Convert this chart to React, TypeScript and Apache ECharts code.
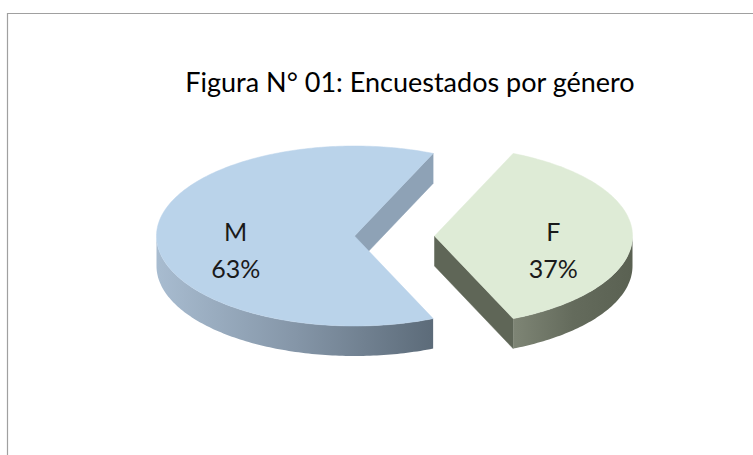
import React, { useEffect, useRef } from "react";
import * as echarts from "echarts";

const titleText = "Figura N° 01: Encuestados por género";
const categories = ["M", "F"];
const values = [63, 37];

const topColors = ["#BAD3EA", "#DEEBD6"];
const sideColors = [
  ["#A8BCD0", "#8596A8", "#5C6B79"],
  ["#7E8575", "#646B5C", "#5A6152"],
];
const radialColors = ["#8EA2B6", "#5F6657"];

export default function App() {
  const ref = useRef<HTMLDivElement>(null);
  useEffect(() => {
    document.body.style.margin = "0";
    const chart = echarts.init(ref.current!, null, { renderer: "svg" });
    const total = values.reduce((a, b) => a + b, 0);
    const startDeg = 270 - (values[0] / total) * 180;
    const cx = 394.5;
    const cy = 236;
    const rx = 198;
    const ry = 90;
    const h = 30;
    const explode = 40;
    const rad = (d: number) => (d * Math.PI) / 180;

    const renderItem = (params: any, api: any) => {
      const i = params.dataIndex;
      const v = api.value(1);
      let a0 = startDeg;
      for (let k = 0; k < i; k++) a0 += (values[k] / total) * 360;
      const a1 = a0 + (v / total) * 360;
      const mid = (a0 + a1) / 2;
      const ox = Math.sin(rad(mid)) * explode;
      const oy = -Math.cos(rad(mid)) * explode * (ry / rx);
      const ax = cx + ox;
      const ay = cy + oy;
      const P = (d: number, dy = 0) => [
        ax + rx * Math.sin(rad(d)),
        ay - ry * Math.cos(rad(d)) + dy,
      ];
      const arc = (s: number, e: number, dy = 0) => {
        const pts: number[][] = [];
        const n = Math.max(2, Math.ceil(Math.abs(e - s)));
        for (let j = 0; j <= n; j++) pts.push(P(s + ((e - s) * j) / n, dy));
        return pts;
      };
      const children: any[] = [];
      // radial walls
      const walls: number[] = [];
      if (Math.sin(rad(a0)) < 0) walls.push(a0);
      if (Math.sin(rad(a1)) > 0) walls.push(a1);
      walls.forEach((d) => {
        const p = P(d);
        children.push({
          type: "polygon",
          shape: { points: [[ax, ay], p, [p[0], p[1] + h], [ax, ay + h]] },
          style: { fill: radialColors[i], stroke: radialColors[i], lineWidth: 0.5 },
        });
      });
      // outer visible wall (front half: 90..270 mod 360)
      const ranges: number[][] = [];
      for (let base = -360; base <= 360; base += 360) {
        const s = Math.max(a0, 90 + base);
        const e = Math.min(a1, 270 + base);
        if (e > s) ranges.push([s, e]);
      }
      ranges.forEach(([s, e]) => {
        const topPts = arc(s, e);
        const botPts = arc(e, s, h);
        children.push({
          type: "polygon",
          shape: { points: topPts.concat(botPts) },
          style: {
            fill: new echarts.graphic.LinearGradient(0, 0, 1, 0, [
              { offset: 0, color: sideColors[i][0] },
              { offset: 0.5, color: sideColors[i][1] },
              { offset: 1, color: sideColors[i][2] },
            ]),
          },
        });
      });
      // top face
      children.push({
        type: "polygon",
        shape: { points: [[ax, ay]].concat(arc(a0, a1)) },
        style: { fill: topColors[i], stroke: topColors[i], lineWidth: 0.5 },
      });
      // label
      const lx = ax + Math.sin(rad(mid)) * rx * 0.6;
      const ly = ay + 13;
      children.push({
        type: "text",
        style: {
          text: `${categories[i]}\n${Math.round((v / total) * 100)}%`,
          x: lx,
          y: ly,
          align: "center",
          verticalAlign: "middle",
          fontFamily: "Lato",
          fontSize: 25,
          lineHeight: 37,
          fill: "#1A1A1A",
        },
      });
      return { type: "group", children };
    };

    chart.setOption({
      animation: false,
      backgroundColor: "#FFFFFF",
      title: {
        text: titleText,
        left: 405,
        top: 76,
        textAlign: "center",
        textVerticalAlign: "middle",
        textStyle: {
          fontFamily: "Lato",
          fontSize: 27,
          fontWeight: "normal",
          color: "#000000",
        },
      },
      graphic: [
        {
          type: "rect",
          silent: true,
          z: -10,
          shape: { x: 7.5, y: 13.5, width: 820, height: 520 },
          style: { fill: "none", stroke: "#A0A0A0", lineWidth: 1.2 },
        },
      ],
      series: [
        {
          type: "custom",
          coordinateSystem: "none",
          renderItem,
          data: categories.map((c, i) => [c, values[i]]),
        },
      ],
    });
    return () => chart.dispose();
  }, []);
  return <div ref={ref} style={{ position: "absolute", left: 0, top: 0, width: 753, height: 455 }} />;
}
